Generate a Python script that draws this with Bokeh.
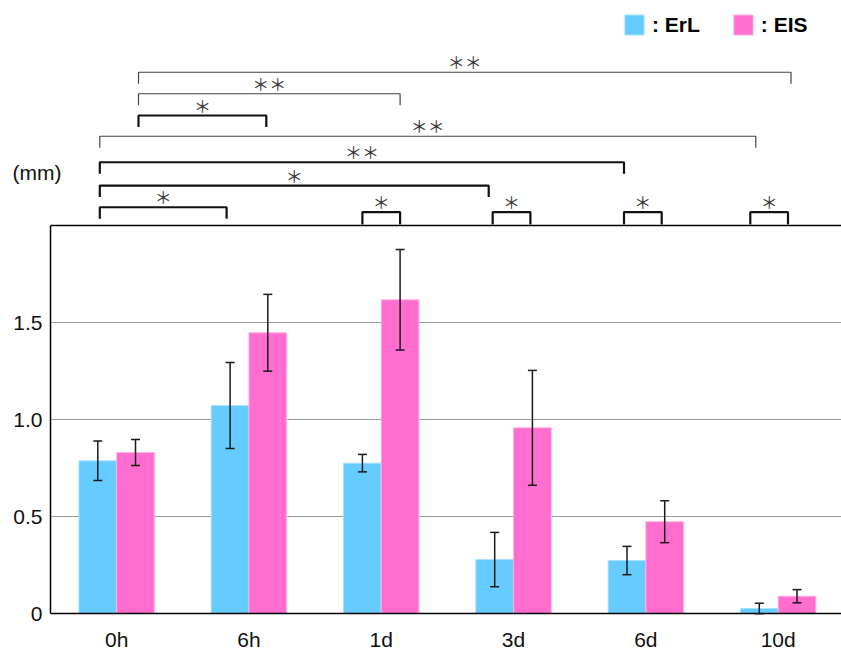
from bokeh.plotting import figure
from bokeh.models import (ColumnDataSource, Range1d, FixedTicker, Whisker, TeeHead,
                          Legend, LegendItem)
from bokeh.embed import file_html
from bokeh.resources import INLINE
from bokeh.core.properties import value

# ---------------- data ----------------
categories = ["0h", "6h", "1d", "3d", "6d", "10d"]
erl_mean = [0.787, 1.072, 0.775, 0.278, 0.273, 0.026]
erl_err = [0.102, 0.222, 0.045, 0.140, 0.073, 0.027]
eis_mean = [0.830, 1.447, 1.617, 0.957, 0.473, 0.089]
eis_err = [0.067, 0.198, 0.259, 0.296, 0.108, 0.034]
y_ticks = [0, 0.5, 1.0, 1.5]
y_tick_labels = ["0", "0.5", "1.0", "1.5"]
grid_ticks = [0.5, 1.0, 1.5]
series_names = ["ErL", "EIS"]
unit_label = "(mm)"

# significance brackets (from category/series -> to category/series)
sig_from_cat = ["0h", "0h", "0h", "0h", "0h", "0h", "0h"]
sig_from_series = ["EIS", "EIS", "EIS", "ErL", "ErL", "ErL", "ErL"]
sig_to_cat = ["10d", "1d", "6h", "10d", "6d", "3d", "6h"]
sig_to_series = ["EIS", "EIS", "EIS", "ErL", "ErL", "ErL", "ErL"]
sig_marks = ["＊＊", "＊＊", "＊", "＊＊", "＊＊", "＊", "＊"]
# within-time-point comparisons (ErL vs EIS)
pair_cats = ["1d", "3d", "6d", "10d"]
pair_marks = ["＊", "＊", "＊", "＊"]

# ---------------- layout constants ----------------
W, H = 841, 651
AXIS_X = 50          # pixel column of the y axis
BASE_Y = 613         # pixel row of y = 0
PX_PER_UNIT = 194.0
CAT_W = 132.3
Y_TOP = 2.0
BAR_W = 0.285
sig_level = [2.790, 2.679, 2.567, 2.460, 2.326, 2.206, 2.094]
sig_width = [1.2, 1.2, 2.2, 1.2, 2.2, 2.2, 2.2]
sig_color = ["#444444", "#444444", "#111111", "#444444", "#111111", "#111111", "#111111"]
sig_nudge_l = [3, 3, 3, 2, 2, 2, 2]              # pixel nudges of bracket ends
sig_nudge_r = [-6, 0, -1.5, -3.5, -3, -6, -3.5]
pair_nudge = [0, -2, -3, -9]
pair_level = 2.069
FOOT = 0.059
PAIR_FOOT = 0.064

FONT = "Liberation Sans"
ERL_COLOR = "#66CCFF"
EIS_COLOR = "#FF6ECF"

X_START = -AXIS_X / CAT_W
X_END = (W - AXIS_X) / CAT_W
Y_START = -(H - BASE_Y) / PX_PER_UNIT
Y_END = BASE_Y / PX_PER_UNIT

idx = {c: i for i, c in enumerate(categories)}
offset = {"ErL": -BAR_W / 2, "EIS": BAR_W / 2}


def xpos(cat, series):
    return idx[cat] + 0.5 + offset[series]


p = figure(frame_width=W, frame_height=H,
           x_range=Range1d(X_START, X_END),
           y_range=Range1d(Y_START, Y_END),
           output_backend="svg", toolbar_location=None,
           min_border_left=0, min_border_right=0, min_border_top=0,
           min_border_bottom=0)
p.outline_line_color = None
p.background_fill_color = "white"
p.border_fill_color = "white"

# bars
erl_src = ColumnDataSource(dict(
    x=[xpos(c, "ErL") for c in categories], top=erl_mean,
    upper=[m + e for m, e in zip(erl_mean, erl_err)],
    lower=[m - e for m, e in zip(erl_mean, erl_err)]))
eis_src = ColumnDataSource(dict(
    x=[xpos(c, "EIS") for c in categories], top=eis_mean,
    upper=[m + e for m, e in zip(eis_mean, eis_err)],
    lower=[m - e for m, e in zip(eis_mean, eis_err)]))

r_erl = p.vbar(x="x", top="top", width=BAR_W, source=erl_src,
               fill_color=ERL_COLOR, line_color="#A8E0FF", line_width=1)
r_eis = p.vbar(x="x", top="top", width=BAR_W, source=eis_src,
               fill_color=EIS_COLOR, line_color="#FFB0E4", line_width=1)

for src in (erl_src, eis_src):
    w = Whisker(base="x", upper="upper", lower="lower", source=src,
                level="overlay",
                line_color="#1a1a1a", line_width=1.5,
                upper_head=TeeHead(size=9, line_color="#1a1a1a", line_width=1.5),
                lower_head=TeeHead(size=9, line_color="#1a1a1a", line_width=1.5))
    p.add_layout(w)

# frame top line
p.segment(x0=[0], y0=[Y_TOP], x1=[X_END], y1=[Y_TOP], line_color="black",
          line_width=1.5)

# axes (fixed at the data origin, inside the frame)
xa = p.xaxis[0]
ya = p.yaxis[0]
xa.ticker = FixedTicker(ticks=[i + 0.5 for i in range(len(categories))])
xa.major_label_overrides = {i + 0.5: c for i, c in enumerate(categories)}
xa.bounds = (0, X_END)
xa.fixed_location = 0
ya.ticker = FixedTicker(ticks=y_ticks)
ya.major_label_overrides = dict(zip(y_ticks, y_tick_labels))
ya.bounds = (0, Y_TOP)
ya.fixed_location = 0
for ax in (xa, ya):
    ax.axis_line_color = "black"
    ax.axis_line_width = 1.5
    ax.major_tick_line_color = None
    ax.minor_tick_line_color = None
    ax.major_tick_out = 0
    ax.major_tick_in = 0
    ax.major_label_text_font = FONT
    ax.major_label_text_font_size = "21px"
    ax.major_label_text_color = "#111111"
xa.major_label_standoff = 14
ya.major_label_standoff = 8
p.xgrid.grid_line_color = None
p.ygrid.ticker = FixedTicker(ticks=grid_ticks)
p.ygrid.cross_bounds = (0, X_END)
p.ygrid.grid_line_color = "#999999"
p.ygrid.grid_line_width = 1.2

# significance brackets
bx, by, bw, bc = [], [], [], []
tx, ty, tt = [], [], []
for fc, fs, tc, ts, mk, lv, lw, lc, nl, nr in zip(
        sig_from_cat, sig_from_series, sig_to_cat, sig_to_series, sig_marks,
        sig_level, sig_width, sig_color, sig_nudge_l, sig_nudge_r):
    x1 = xpos(fc, fs) + nl / CAT_W
    x2 = xpos(tc, ts) + nr / CAT_W
    bx.append([x1, x1, x2, x2])
    by.append([lv - FOOT, lv, lv, lv - FOOT])
    bw.append(lw)
    bc.append(lc)
    tx.append((x1 + x2) / 2)
    ty.append(lv)
    tt.append(mk)
for c, mk, nd in zip(pair_cats, pair_marks, pair_nudge):
    x1 = xpos(c, "ErL") + nd / CAT_W
    x2 = xpos(c, "EIS") + nd / CAT_W
    bx.append([x1, x1, x2, x2])
    by.append([pair_level - PAIR_FOOT, pair_level, pair_level, pair_level - PAIR_FOOT])
    bw.append(2.2)
    bc.append("#111111")
    tx.append((x1 + x2) / 2)
    ty.append(pair_level)
    tt.append(mk)

p.multi_line(xs="xs", ys="ys", line_width="lw", line_color="lc",
             source=ColumnDataSource(dict(xs=bx, ys=by, lw=bw, lc=bc)))
p.text(x="x", y="y", text="t", source=ColumnDataSource(dict(x=tx, y=ty, t=tt)),
       text_font=value("Noto Sans CJK JP"), text_font_size="17px",
       text_align="center", text_baseline="bottom", text_color="#3a3a3a",
       y_offset=2)

# unit label
p.text(x=[-38 / CAT_W], y=[(BASE_Y - 172) / PX_PER_UNIT], text=[unit_label],
       text_font=value(FONT), text_font_size="21px", text_baseline="middle",
       text_align="left", text_color="#111111")

# legend
legend = Legend(items=[LegendItem(label=value(": " + series_names[0]), renderers=[r_erl]),
                       LegendItem(label=value(": " + series_names[1]), renderers=[r_eis])],
                orientation="horizontal", location=(622, H - 37),
                glyph_width=24, glyph_height=25, label_standoff=6, spacing=31,
                padding=0, margin=0, border_line_color=None,
                background_fill_alpha=0,
                label_text_font=FONT, label_text_font_style="bold",
                label_text_font_size="21px", label_text_color="black")
p.add_layout(legend)

open("out.html", "w").write(file_html(p, INLINE))
